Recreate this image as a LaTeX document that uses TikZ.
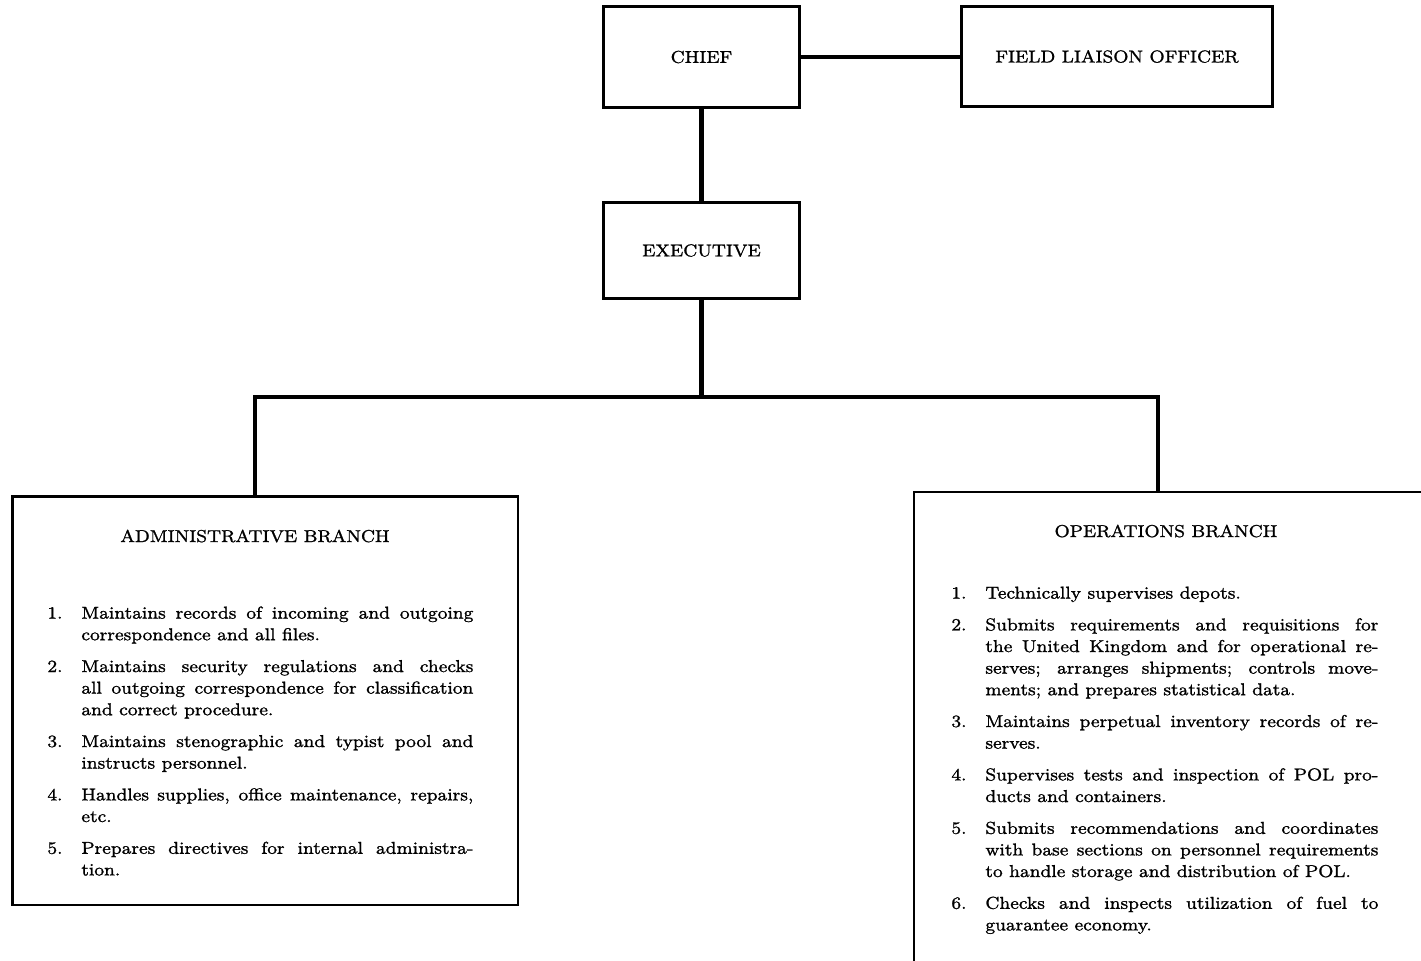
\documentclass[tikz,border=0pt]{standalone}
\usepackage{fontspec}
\setmainfont{Latin Modern Roman}[FakeStretch=1.1,FakeBold=1.2]
\newcommand\orgfont{\fontsize{8.6pt}{10.8pt}\selectfont}
\newcommand\itemgap{\par\vskip 5.1pt}
\newcommand\orgitem[2]{\par\hangindent=17pt\hangafter=1\noindent\makebox[17pt][l]{#1}#2\par}
\begin{document}
\begin{tikzpicture}[x=0.5pt,y=-0.5pt,
  box/.style={draw,line width=1.3pt,inner sep=0pt,outer sep=0pt,font=\orgfont,align=center},
  conn/.style={line width=2.3pt},
  title/.style={inner sep=0pt,font=\orgfont,anchor=base},
  duties/.style={inner sep=0pt,anchor=base west,align=justify,
    font={\orgfont\pretolerance=-1\tolerance=10000\hyphenpenalty=10000\parindent=0pt}}]
\useasboundingbox (0,0) rectangle (1421,960);
\clip (0,0) rectangle (1421,960);

% top of the organisation
\node[box,minimum width=98pt,minimum height=50.5pt] (chief) at (701.5,57) {CHIEF};
\node[box,minimum width=155.5pt,minimum height=50pt] (flo) at (1117,56.5) {FIELD LIAISON OFFICER};
\node[box,minimum width=98pt,minimum height=48pt] (exec) at (701.5,250.5) {EXECUTIVE};

% branch boxes
\node[box,minimum width=252.75pt,minimum height=204.25pt] (admin) at (265.25,700.75) {};
\node[box,minimum width=263pt,minimum height=249pt] (ops) at (1177,741) {};

% connectors
\coordinate (ajoin) at (255,397);
\coordinate (ojoin) at (1158,397);
\draw[conn] (chief.east) -- (flo.west |- chief.east);
\draw[conn] (chief.south) -- (exec.north);
\draw[conn] (exec.south) -- (exec.south |- ajoin);
\draw[conn] (admin.north -| ajoin) -- (ajoin) -- (ojoin) -- (ops.north -| ojoin);

% administrative branch
\node[title] (admintitle) at (255,542) {ADMINISTRATIVE BRANCH};
\node[duties,text width=213pt] (adminlist) at (47,597) {%
\orgitem{1.}{Maintains records of incoming and outgoing\linebreak correspondence and all files.}\itemgap
\orgitem{2.}{Maintains security regulations and checks\linebreak all outgoing correspondence for classification\linebreak and correct procedure.}\itemgap
\orgitem{3.}{Maintains stenographic and typist pool and\linebreak instructs personnel.}\itemgap
\orgitem{4.}{Handles supplies, office maintenance, repairs,\linebreak etc.}\itemgap
\orgitem{5.}{Prepares directives for internal administra-\linebreak tion.}};

% operations branch
\node[title] (opstitle) at (1166,537) {OPERATIONS BRANCH};
\node[duties,text width=213.5pt] (opslist) at (951,577) {%
\orgitem{1.}{Technically supervises depots.}\itemgap
\orgitem{2.}{Submits requirements and requisitions for\linebreak the United Kingdom and for operational re-\linebreak serves; arranges shipments; controls move-\linebreak ments; and prepares statistical data.}\itemgap
\orgitem{3.}{Maintains perpetual inventory records of re-\linebreak serves.}\itemgap
\orgitem{4.}{Supervises tests and inspection of POL pro-\linebreak ducts and containers.}\itemgap
\orgitem{5.}{Submits recommendations and coordinates\linebreak with base sections on personnel requirements\linebreak to handle storage and distribution of POL.}\itemgap
\orgitem{6.}{Checks and inspects utilization of fuel to\linebreak guarantee economy.}};
\end{tikzpicture}
\end{document}
